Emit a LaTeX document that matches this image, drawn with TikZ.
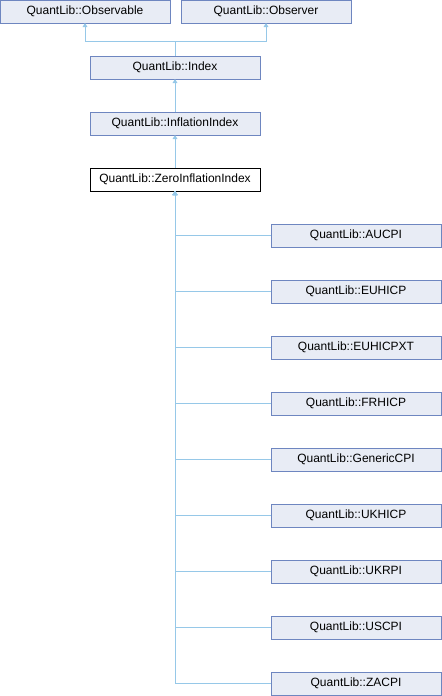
\documentclass[tikz,border=0pt]{standalone}
\usepackage{fontspec}
\setmainfont{Liberation Sans}
\usepackage{xcolor}
\usetikzlibrary{arrows.meta}
\usetikzlibrary{positioning}

\definecolor{boxfill}{RGB}{232,236,245}
\definecolor{boxborder}{RGB}{110,134,192}
\definecolor{linkcolor}{RGB}{150,200,232}

\tikzset{
    classbox/.style={draw=boxborder, fill=boxfill, line width=0.75pt,
        minimum width=127.5pt, minimum height=17.25pt, inner sep=0pt,
        outer sep=0pt, font=\fontsize{9}{10}\selectfont},
    focusbox/.style={classbox, draw=black, fill=white},
    inherit/.style={draw=linkcolor, line width=0.75pt,
        -{Triangle[length=3pt,width=3.5pt]}},
}

\begin{document}
\begin{tikzpicture}[x=0.75pt, y=-0.75pt]
    \useasboundingbox (0,0) rectangle (442,696);
    % base classes
    \node [classbox] (observable) at (85,11.5) {QuantLib::Observable};
    \node [classbox, right=8.25pt of observable] (observer) {QuantLib::Observer};
    \node [classbox] (index) at (175,67.5) {QuantLib::Index};
    \node [classbox, below=24.75pt of index] (inflation) {QuantLib::InflationIndex};
    \node [focusbox, below=24.75pt of inflation] (zero) {QuantLib::ZeroInflationIndex};
    % derived classes
    \node [classbox] (aucpi) at (356,235.5) {QuantLib::AUCPI};
    \node [classbox, below=24.75pt of aucpi] (euhicp) {QuantLib::EUHICP};
    \node [classbox, below=24.75pt of euhicp] (euhicpxt) {QuantLib::EUHICPXT};
    \node [classbox, below=24.75pt of euhicpxt] (frhicp) {QuantLib::FRHICP};
    \node [classbox, below=24.75pt of frhicp] (genericcpi) {QuantLib::GenericCPI};
    \node [classbox, below=24.75pt of genericcpi] (ukhicp) {QuantLib::UKHICP};
    \node [classbox, below=24.75pt of ukhicp] (ukrpi) {QuantLib::UKRPI};
    \node [classbox, below=24.75pt of ukrpi] (uscpi) {QuantLib::USCPI};
    \node [classbox, below=24.75pt of uscpi] (zacpi) {QuantLib::ZACPI};
    \coordinate (join) at (175,41);

    \draw [inherit] (index.north) -- (join) -| (observable.south);
    \draw [inherit] (join) -| (observer.south);
    \draw [inherit] (inflation.north) -- (index.south);
    \draw [inherit] (zero.north) -- (inflation.south);
    \draw [inherit] (aucpi.west) -| (zero.south);      % AUCPI
    \draw [inherit] (euhicp.west) -| (zero.south);     % EUHICP
    \draw [inherit] (euhicpxt.west) -| (zero.south);   % EUHICPXT
    \draw [inherit] (frhicp.west) -| (zero.south);     % FRHICP
    \draw [inherit] (genericcpi.west) -| (zero.south); % GenericCPI
    \draw [inherit] (ukhicp.west) -| (zero.south);     % UKHICP
    \draw [inherit] (ukrpi.west) -| (zero.south);      % UKRPI
    \draw [inherit] (uscpi.west) -| (zero.south);      % USCPI
    \draw [inherit] (zacpi.west) -| (zero.south);      % ZACPI
\end{tikzpicture}
\end{document}
